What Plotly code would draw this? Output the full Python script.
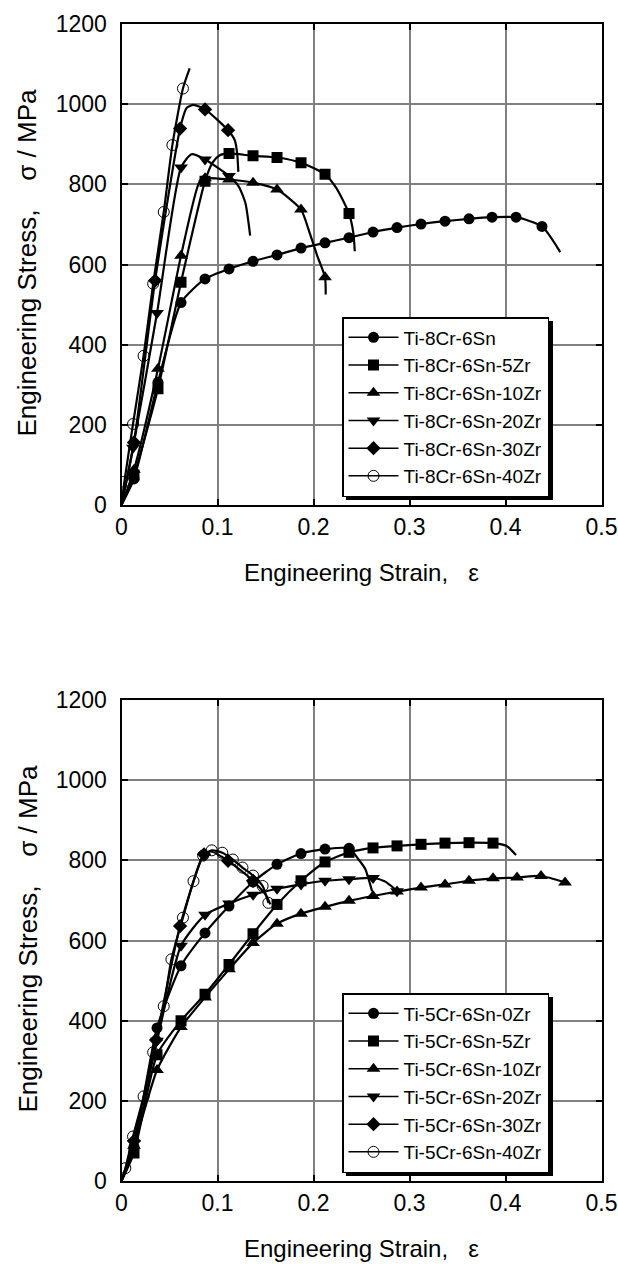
import plotly.graph_objects as go

FONT = "Liberation Sans, Arial, Helvetica, sans-serif"

# ---------------- Upper panel : Ti-8Cr-6Sn-xZr ----------------
top_names = ["Ti-8Cr-6Sn", "Ti-8Cr-6Sn-5Zr", "Ti-8Cr-6Sn-10Zr",
             "Ti-8Cr-6Sn-20Zr", "Ti-8Cr-6Sn-30Zr", "Ti-8Cr-6Sn-40Zr"]

# curve vertices (strain, stress / MPa); *_mark = 1 where a symbol is drawn
t0_strain = [0, 0.013, 0.038, 0.062, 0.087, 0.112, 0.137, 0.162, 0.187, 0.212, 0.237,
             0.262, 0.287, 0.312, 0.337, 0.362, 0.386, 0.411, 0.438, 0.457]
t0_stress = [0, 65, 306, 505, 564, 589, 608, 624, 641, 654, 667,
             681, 692, 701, 708, 714, 718, 718, 695, 631]
t0_mark = [0] + [1] * 18 + [0]

t1_strain = [0, 0.013, 0.038, 0.062, 0.087, 0.095, 0.102, 0.112, 0.137, 0.162, 0.187,
             0.212, 0.224, 0.237, 0.2415, 0.243]
t1_stress = [0, 75, 290, 556, 808, 855, 872, 877, 871, 867, 854,
             825, 790, 727, 679, 633]
t1_mark = [0, 1, 1, 1, 1, 0, 0, 1, 1, 1, 1, 1, 0, 1, 0, 0]

t2_strain = [0, 0.013, 0.038, 0.062, 0.081, 0.087, 0.112, 0.137, 0.162, 0.187,
             0.196, 0.204, 0.212, 0.2127]
t2_stress = [0, 88, 340, 622, 805, 815, 812, 804, 787, 737,
             679, 621, 568, 525]
t2_mark = [0, 1, 1, 1, 0, 1, 1, 1, 1, 1, 0, 0, 1, 0]

t3_strain = [0, 0.012, 0.037, 0.062, 0.073, 0.087, 0.112, 0.122, 0.129, 0.134]
t3_stress = [0, 143, 479, 842, 875, 862, 821, 795, 754, 672]
t3_mark = [0, 1, 1, 1, 0, 1, 1, 0, 0, 0]

t4_strain = [0, 0.013, 0.035, 0.061, 0.068, 0.075, 0.087, 0.111, 0.118, 0.1205, 0.1217]
t4_stress = [0, 156, 560, 939, 991, 998, 987, 935, 910, 877, 831]
t4_mark = [0, 1, 1, 1, 0, 0, 1, 1, 0, 0, 0]

t5_strain = [0, 0.003, 0.012, 0.023, 0.033, 0.044, 0.053, 0.064, 0.071]
t5_stress = [0, 58, 202, 372, 552, 731, 898, 1039, 1089]
t5_mark = [0, 1, 1, 1, 1, 1, 1, 1, 0]

# ---------------- Lower panel : Ti-5Cr-6Sn-xZr ----------------
bot_names = ["Ti-5Cr-6Sn-0Zr", "Ti-5Cr-6Sn-5Zr", "Ti-5Cr-6Sn-10Zr",
             "Ti-5Cr-6Sn-20Zr", "Ti-5Cr-6Sn-30Zr", "Ti-5Cr-6Sn-40Zr"]

b0_strain = [0, 0.013, 0.037, 0.062, 0.087, 0.112, 0.137, 0.162, 0.187, 0.212, 0.237,
             0.247, 0.254, 0.261]
b0_stress = [0, 85, 382, 537, 619, 686, 746, 790, 817, 828, 830, 802, 778, 723]
b0_mark = [0] + [1] * 10 + [0, 0, 0]

b1_strain = [0, 0.013, 0.037, 0.062, 0.087, 0.112, 0.137, 0.162, 0.187, 0.212, 0.237,
             0.262, 0.287, 0.312, 0.337, 0.362, 0.387, 0.401, 0.411]
b1_stress = [0, 70, 315, 400, 466, 540, 617, 690, 749, 796, 820,
             831, 836, 840, 843, 844, 843, 836, 813]
b1_mark = [0] + [1] * 16 + [0, 0]

b2_strain = [0, 0.013, 0.037, 0.062, 0.087, 0.112, 0.137, 0.162, 0.187, 0.212, 0.237,
             0.262, 0.287, 0.312, 0.337, 0.362, 0.387, 0.412, 0.437, 0.462]
b2_stress = [0, 88, 277, 384, 458, 528, 594, 642, 667, 684, 699,
             711, 722, 732, 740, 749, 755, 757, 761, 745]
b2_mark = [0] + [1] * 19

b3_strain = [0, 0.013, 0.037, 0.062, 0.087, 0.112, 0.137, 0.162, 0.187, 0.212, 0.237,
             0.262, 0.274, 0.281, 0.287]
b3_stress = [0, 95, 350, 587, 664, 692, 714, 729, 740, 749, 753, 756, 748, 736, 723]
b3_mark = [0] + [1] * 11 + [0, 0, 1]

b4_strain = [0, 0.013, 0.036, 0.061, 0.086, 0.093, 0.111, 0.137, 0.151, 0.155]
b4_stress = [0, 100, 352, 636, 815, 822, 799, 749, 711, 690]
b4_mark = [0, 1, 1, 1, 1, 0, 1, 1, 0, 0]

b5_strain = [0, 0.004, 0.012, 0.023, 0.033, 0.044, 0.052, 0.064, 0.075, 0.085, 0.094,
             0.105, 0.116, 0.126, 0.137, 0.147, 0.153]
b5_stress = [0, 32, 111, 211, 321, 436, 553, 657, 748, 812, 825,
             819, 802, 782, 762, 736, 694]
b5_mark = [0] + [1] * 16

strain_ticks = [0, 0.1, 0.2, 0.3, 0.4, 0.5]
stress_ticks = [0, 200, 400, 600, 800, 1000, 1200]

symbols = [
    dict(symbol="circle", size=11, color="black"),
    dict(symbol="square", size=11, color="black"),
    dict(symbol="triangle-up", size=12, color="black"),
    dict(symbol="triangle-down", size=12, color="black"),
    dict(symbol="diamond", size=11, color="black"),
    dict(symbol="circle-open", size=11, color="black", line=dict(width=1, color="black")),
]

top_series = [(t0_strain, t0_stress, t0_mark), (t1_strain, t1_stress, t1_mark),
              (t2_strain, t2_stress, t2_mark), (t3_strain, t3_stress, t3_mark),
              (t4_strain, t4_stress, t4_mark), (t5_strain, t5_stress, t5_mark)]
bot_series = [(b0_strain, b0_stress, b0_mark), (b1_strain, b1_stress, b1_mark),
              (b2_strain, b2_stress, b2_mark), (b3_strain, b3_stress, b3_mark),
              (b4_strain, b4_stress, b4_mark), (b5_strain, b5_stress, b5_mark)]

fig = go.Figure()
LINE = dict(color="black", width=2.2, shape="spline", smoothing=0.6)
LEG_LINE = dict(color="black", width=1.5)


def add_panel(series, names, xa, ya, legend):
    for (sx, sy, mk), name in zip(series, names):
        fig.add_trace(go.Scatter(x=sx, y=sy, mode="lines", line=LINE, xaxis=xa, yaxis=ya,
                                 showlegend=False, legendgroup=name, name=name,
                                 hoverinfo="skip"))
    for (sx, sy, mk), name, sym in zip(series, names, symbols):
        mx = [a for a, m in zip(sx, mk) if m]
        my = [b for b, m in zip(sy, mk) if m]
        fig.add_trace(go.Scatter(x=mx, y=my, mode="markers", marker=sym, xaxis=xa, yaxis=ya,
                                 showlegend=False, legendgroup=name, name=name))
    for name, sym in zip(names, symbols):
        fig.add_trace(go.Scatter(x=[None], y=[None], mode="lines+markers", name=name,
                                 marker=sym, line=LEG_LINE, xaxis=xa, yaxis=ya,
                                 legend=legend, legendgroup=name))


add_panel(top_series, top_names, "x", "y", "legend")
add_panel(bot_series, bot_names, "x2", "y2", "legend2")

W, H = 618, 1264
XL, XR = 121.5, 601.5
top_y = (24, 505)
bot_y = (700, 1181)


def px_x(p):
    return p / W


def px_y(p):
    return 1 - p / H


axis_common = dict(showgrid=True, gridcolor="#808080", gridwidth=2, showline=True,
                   linecolor="black", linewidth=2, mirror="ticks", ticks="inside",
                   ticklen=6, tickwidth=1.5, tickcolor="black", zeroline=False,
                   automargin=False,
                   tickfont=dict(family=FONT, size=23, color="black"))

# legend box (pixels): left edge and vertical centre as in the original
LEG_W, LEG_H = 207, 179
leg_boxes = []
for yc in (406.5, 406.5 + 676):
    leg_boxes.append((342, yc - LEG_H / 2))

fig.update_layout(
    width=W, height=H, autosize=False,
    margin=dict(l=0, r=0, t=0, b=0, pad=0, autoexpand=False),
    paper_bgcolor="white", plot_bgcolor="white",
    font=dict(family=FONT, color="black"),
    xaxis=dict(domain=[px_x(XL), px_x(XR)], range=[0, 0.5], tickvals=strain_ticks,
               anchor="y", ticklabelstandoff=0, **axis_common),
    yaxis=dict(domain=[px_y(top_y[1]), px_y(top_y[0])], range=[0, 1200], tickvals=stress_ticks,
               anchor="x", ticklabelstandoff=8, **axis_common),
    xaxis2=dict(domain=[px_x(XL), px_x(XR)], range=[0, 0.5], tickvals=strain_ticks,
                anchor="y2", ticklabelstandoff=0, **axis_common),
    yaxis2=dict(domain=[px_y(bot_y[1]), px_y(bot_y[0])], range=[0, 1200], tickvals=stress_ticks,
                anchor="x2", ticklabelstandoff=8, **axis_common),
    showlegend=True,
)
for key, (lx, ly) in zip(("legend", "legend2"), leg_boxes):
    fig.update_layout({key: dict(x=px_x(lx), xanchor="left", y=px_y(ly), yanchor="top",
                                 bgcolor="white", bordercolor="black", borderwidth=1.5,
                                 itemwidth=50, tracegroupgap=0,
                                 font=dict(family=FONT, size=19, color="black"))})

# drop shadow behind each legend box
shapes = []
for (lx, ly) in leg_boxes:
    shapes.append(dict(type="rect", xref="paper", yref="paper", layer="above",
                       x0=px_x(lx + 4), x1=px_x(lx + LEG_W + 4),
                       y0=px_y(ly + LEG_H + 4), y1=px_y(ly + 4),
                       fillcolor="black", line=dict(width=0)))
fig.update_layout(shapes=shapes)

NB = "\u00a0"
xtitle = "Engineering Strain," + NB * 3 + "ε"
ytitle = "Engineering Stress," + NB * 4 + "σ / MPa"
annots = []
for (y0, y1) in (top_y, bot_y):
    annots.append(dict(text=xtitle, x=px_x((XL + XR) / 2), y=px_y(y1 + 67), xref="paper",
                       yref="paper", showarrow=False, xanchor="center", yanchor="middle",
                       font=dict(family=FONT, size=24, color="black")))
    annots.append(dict(text=ytitle, x=px_x(27), y=px_y((y0 + y1) / 2 - 2), xref="paper",
                       yref="paper", showarrow=False, xanchor="center", yanchor="middle",
                       textangle=-90, font=dict(family=FONT, size=26, color="black")))
fig.update_layout(annotations=annots)

fig.write_html("out.html",
               config={"displayModeBar": False},
               post_script="document.body.style.margin='0';"
                           "document.body.style.overflow='hidden';")
